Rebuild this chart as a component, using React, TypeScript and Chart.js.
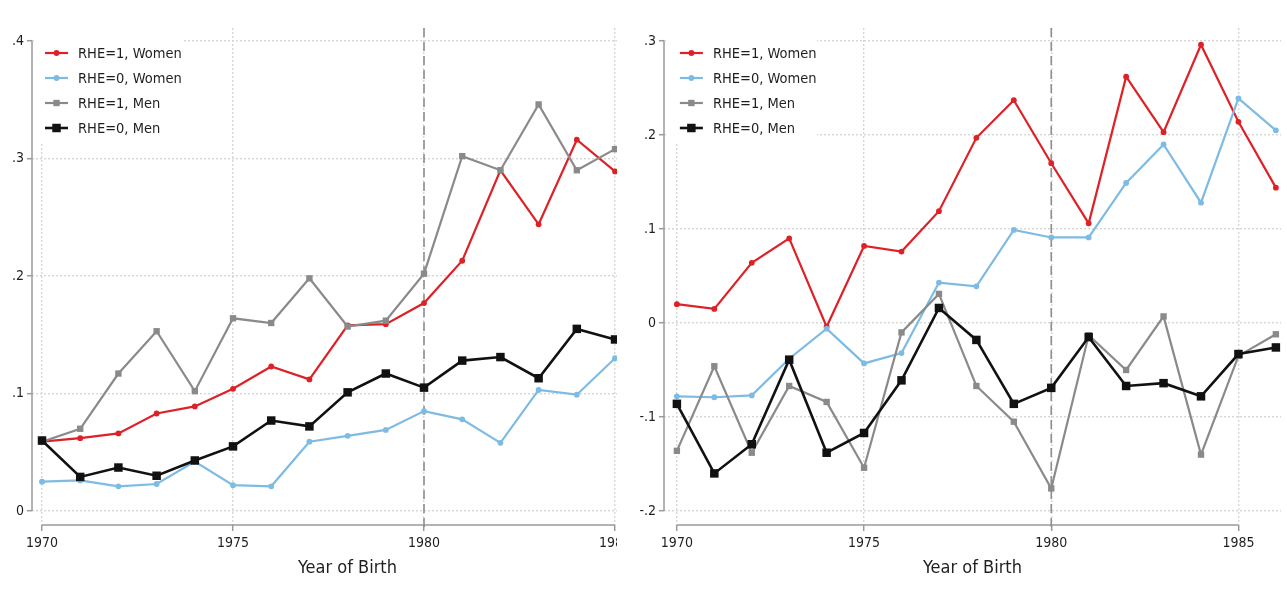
import React, { useEffect, useRef } from 'react';
import { Chart, registerables } from 'chart.js';

Chart.register(...registerables);

// ---------- data ----------
const years = [1970, 1971, 1972, 1973, 1974, 1975, 1976, 1977, 1978, 1979, 1980, 1981, 1982, 1983, 1984, 1985, 1986];
const seriesLabels = ['RHE=1, Women', 'RHE=0, Women', 'RHE=1, Men', 'RHE=0, Men'];
const xTicks = [1970, 1975, 1980, 1985];
const referenceYear = 1980;
const xTitle = 'Year of Birth';

// left panel (visible up to 1985)
const leftRHE1Women = [0.059, 0.062, 0.066, 0.083, 0.089, 0.104, 0.123, 0.112, 0.158, 0.159, 0.177, 0.213, 0.290, 0.244, 0.316, 0.289];
const leftRHE0Women = [0.025, 0.026, 0.021, 0.023, 0.042, 0.022, 0.021, 0.059, 0.064, 0.069, 0.085, 0.078, 0.058, 0.103, 0.099, 0.130];
const leftRHE1Men = [0.059, 0.070, 0.117, 0.153, 0.102, 0.164, 0.160, 0.198, 0.157, 0.162, 0.202, 0.302, 0.290, 0.346, 0.290, 0.308];
const leftRHE0Men = [0.060, 0.029, 0.037, 0.030, 0.043, 0.055, 0.077, 0.072, 0.101, 0.117, 0.105, 0.128, 0.131, 0.113, 0.155, 0.146];
const leftYTicks = [0, 0.1, 0.2, 0.3, 0.4];

// right panel
const rightRHE1Women = [0.020, 0.015, 0.064, 0.090, -0.004, 0.082, 0.076, 0.119, 0.197, 0.237, 0.170, 0.106, 0.262, 0.203, 0.296, 0.214, 0.144];
const rightRHE0Women = [-0.078, -0.079, -0.077, -0.038, -0.006, -0.043, -0.032, 0.043, 0.039, 0.099, 0.091, 0.091, 0.149, 0.190, 0.128, 0.239, 0.205];
const rightRHE1Men = [-0.136, -0.046, -0.138, -0.067, -0.084, -0.154, -0.010, 0.031, -0.067, -0.105, -0.176, -0.013, -0.050, 0.007, -0.140, -0.035, -0.012];
const rightRHE0Men = [-0.086, -0.160, -0.129, -0.039, -0.138, -0.117, -0.061, 0.016, -0.018, -0.086, -0.069, -0.015, -0.067, -0.064, -0.078, -0.033, -0.026];
const rightYTicks = [-0.2, -0.1, 0, 0.1, 0.2, 0.3];

// ---------- styles ----------
const FONT = "'Liberation Sans Narrow', 'DejaVu Sans Condensed', 'Liberation Sans', Arial, sans-serif";
const TEXT = '#1f1f1f';
const seriesStyles = [
  { color: '#de2127', pointStyle: 'circle', radius: 2.9, width: 2.2 },
  { color: '#7dbbe3', pointStyle: 'circle', radius: 2.9, width: 2.2 },
  { color: '#8a8a8a', pointStyle: 'rect', radius: 4.5, width: 2.2 },
  { color: '#111111', pointStyle: 'rect', radius: 6, width: 2.6 },
];

const fmtY = (v: number) => {
  if (Math.abs(v) < 1e-9) return '0';
  return v.toFixed(1).replace('0.', '.');
};

function drawMarker(ctx: CanvasRenderingContext2D, style: any, x: number, y: number) {
  ctx.fillStyle = style.color;
  ctx.beginPath();
  if (style.pointStyle === 'rect') {
    const s = style.radius * Math.SQRT1_2;
    ctx.rect(x - s, y - s, 2 * s, 2 * s);
  } else {
    ctx.arc(x, y, style.radius, 0, Math.PI * 2);
  }
  ctx.fill();
}

const decorPlugin = {
  id: 'stataDecor',
  beforeDatasetsDraw(chart: any, _args: any, opts: any) {
    const { ctx, chartArea } = chart;
    const x = chart.scales.x;
    const y = chart.scales.y;
    const yTicks: number[] = opts.yTicks;
    ctx.save();
    // axis lines
    ctx.setLineDash([]);
    ctx.strokeStyle = '#9a9a9a';
    ctx.lineWidth = 1.5;
    ctx.beginPath();
    ctx.moveTo(chartArea.left, y.getPixelForValue(yTicks[yTicks.length - 1]));
    ctx.lineTo(chartArea.left, y.getPixelForValue(yTicks[0]));
    ctx.stroke();
    ctx.beginPath();
    ctx.moveTo(x.getPixelForValue(xTicks[0]), chartArea.bottom);
    ctx.lineTo(x.getPixelForValue(xTicks[xTicks.length - 1]), chartArea.bottom);
    ctx.stroke();
    // reference line
    const rx = x.getPixelForValue(referenceYear);
    ctx.setLineDash([9, 5]);
    ctx.strokeStyle = '#8f8f8f';
    ctx.lineWidth = 1.6;
    ctx.beginPath();
    ctx.moveTo(rx, chartArea.top);
    ctx.lineTo(rx, chartArea.bottom + 6);
    ctx.stroke();
    ctx.setLineDash([]);
    // legend
    const lx = x.getPixelForValue(years[0]) + 3;
    ctx.fillStyle = '#ffffff';
    ctx.fillRect(chartArea.left + 2, chartArea.top - 2, lx + 137 - (chartArea.left + 2), 117);
    ctx.font = `14.5px ${FONT}`;
    ctx.textBaseline = 'middle';
    ctx.textAlign = 'left';
    chart.data.datasets.forEach((ds: any, i: number) => {
      const st = seriesStyles[i];
      const ry = chartArea.top + 25 + 25 * i;
      ctx.strokeStyle = st.color;
      ctx.lineWidth = st.width;
      ctx.beginPath();
      ctx.moveTo(lx, ry);
      ctx.lineTo(lx + 23, ry);
      ctx.stroke();
      drawMarker(ctx, st, lx + 11.5, ry);
      ctx.fillStyle = TEXT;
      ctx.fillText(ds.label, lx + 33, ry + 1);
    });
    ctx.restore();
  },
};

type PanelProps = {
  canvasWidth: number;
  yAxisWidth: number;
  padRight: number;
  xMin: number;
  xMax: number;
  yMin: number;
  yMax: number;
  yTicks: number[];
  series: number[][];
};

function Panel(p: PanelProps) {
  const ref = useRef<HTMLCanvasElement | null>(null);
  useEffect(() => {
    if (!ref.current) return;
    const chart = new Chart(ref.current, {
      type: 'line',
      data: {
        datasets: p.series.map((vals, i) => ({
          label: seriesLabels[i],
          data: vals.map((v, j) => ({ x: years[j], y: v })),
          borderColor: seriesStyles[i].color,
          backgroundColor: seriesStyles[i].color,
          pointBackgroundColor: seriesStyles[i].color,
          pointBorderColor: seriesStyles[i].color,
          pointBorderWidth: 0,
          pointStyle: seriesStyles[i].pointStyle as any,
          pointRadius: seriesStyles[i].radius,
          borderWidth: seriesStyles[i].width,
          tension: 0,
          fill: false,
          order: 4 - i,
        })),
      },
      options: {
        responsive: false,
        animation: false,
        devicePixelRatio: 1,
        layout: { padding: { top: 28, right: p.padRight, left: 0, bottom: 0 } },
        plugins: {
          legend: { display: false },
          tooltip: { enabled: false },
          stataDecor: { yTicks: p.yTicks },
        } as any,
        scales: {
          x: {
            type: 'linear',
            min: p.xMin,
            max: p.xMax,
            afterBuildTicks: (s: any) => {
              s.ticks = xTicks.map((v) => ({ value: v }));
            },
            afterFit: (s: any) => {
              s.height = 64;
            },
            ticks: {
              autoSkip: false,
              maxRotation: 0,
              padding: 4,
              color: TEXT,
              font: { family: FONT, size: 14 },
              callback: (v: any) => String(v),
            },
            grid: {
              color: '#d6d6d6',
              lineWidth: 1.4,
              tickLength: 6,
              tickColor: '#9a9a9a',
              tickWidth: 1.5,
              borderDash: [2, 2],
            } as any,
            border: { display: false, dash: [2, 2] },
            title: {
              display: true,
              text: xTitle,
              color: TEXT,
              font: { family: FONT, size: 18 },
              padding: { top: 0, bottom: 10 },
            },
          },
          y: {
            type: 'linear',
            min: p.yMin,
            max: p.yMax,
            afterBuildTicks: (s: any) => {
              s.ticks = p.yTicks.map((v) => ({ value: v }));
            },
            afterFit: (s: any) => {
              s.width = p.yAxisWidth;
            },
            ticks: {
              padding: 3,
              color: TEXT,
              font: { family: FONT, size: 14 },
              callback: (v: any) => fmtY(Number(v)),
            },
            grid: {
              color: '#d6d6d6',
              lineWidth: 1.4,
              tickLength: 5,
              tickColor: '#9a9a9a',
              tickWidth: 1.5,
              borderDash: [2, 2],
            } as any,
            border: { display: false, dash: [2, 2] },
          },
        },
      } as any,
      plugins: [decorPlugin as any],
    });
    return () => chart.destroy();
  }, []);
  return <canvas ref={ref} width={p.canvasWidth} height={589} style={{ display: 'block' }} />;
}

export default function App() {
  return (
    <div style={{ position: 'absolute', left: 0, top: 0, width: 1287, height: 589, background: '#ffffff', overflow: 'hidden' }}>
      <div style={{ position: 'absolute', left: 0, top: 0, width: 617, height: 589, overflow: 'hidden' }}>
        <Panel
          canvasWidth={670}
          yAxisWidth={32}
          padRight={7}
          xMin={1969.738}
          xMax={1986.256}
          yMin={-0.01191}
          yMax={0.41106}
          yTicks={leftYTicks}
          series={[leftRHE1Women, leftRHE0Women, leftRHE1Men, leftRHE0Men]}
        />
      </div>
      <div style={{ position: 'absolute', left: 617, top: 0, width: 670, height: 589, overflow: 'hidden' }}>
        <Panel
          canvasWidth={670}
          yAxisWidth={47}
          padRight={0}
          xMin={1969.656}
          xMax={1986.137}
          yMin={-0.21489}
          yMax={0.31383}
          yTicks={rightYTicks}
          series={[rightRHE1Women, rightRHE0Women, rightRHE1Men, rightRHE0Men]}
        />
      </div>
    </div>
  );
}
